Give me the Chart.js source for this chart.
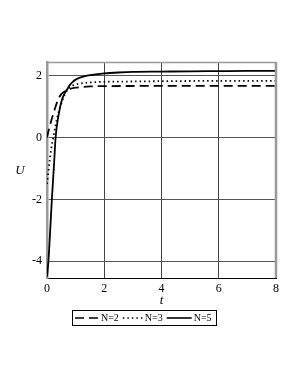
<!DOCTYPE html>
<html>
<head>
<meta charset="utf-8">
<script src="https://cdn.jsdelivr.net/npm/chart.js@4.4.1/dist/chart.umd.min.js"></script>
<style>
  html, body { margin: 0; padding: 0; background: #fff; }
  #wrap { width: 300px; height: 388px; }
</style>
</head>
<body>
<div id="wrap"><canvas id="myChart" width="300" height="388"></canvas></div>
<script>
// values
var tN2 = [0, 0.05, 0.1, 0.2, 0.3, 0.4, 0.5, 0.6, 0.7, 0.8, 1.0, 1.2, 1.5, 2, 3, 4, 6, 8];
var uN2 = [0, 0.2, 0.38, 0.7, 1.0, 1.25, 1.4, 1.48, 1.53, 1.57, 1.61, 1.63, 1.65, 1.66, 1.665, 1.67, 1.67, 1.67];

var tN3 = [0, 0.05, 0.1, 0.15, 0.22, 0.3, 0.4, 0.5, 0.6, 0.7, 0.8, 1.0, 1.2, 1.5, 2, 3, 4, 6, 8];
var uN3 = [-1.5, -1.1, -0.7, -0.35, 0, 0.4, 0.8, 1.1, 1.35, 1.52, 1.63, 1.71, 1.75, 1.78, 1.8, 1.81, 1.82, 1.83, 1.83];

var tN5 = [0, 0.05, 0.1, 0.17, 0.25, 0.3, 0.4, 0.5, 0.6, 0.7, 0.8, 0.9, 1.0, 1.2, 1.4, 1.7, 2, 2.5, 3, 4, 5, 6, 7, 8];
var uN5 = [-4.5, -4.0, -3.2, -2.0, -0.8, 0, 0.7, 1.15, 1.4, 1.55, 1.7, 1.8, 1.87, 1.95, 2.0, 2.04, 2.07, 2.1, 2.12, 2.13, 2.14, 2.145, 2.15, 2.15];

var labels = ['N=2', 'N=3', 'N=5'];
var xTicks = [0, 2, 4, 6, 8];
var yTicks = [-4, -2, 0, 2];

function pts(ts, us) {
  var out = [];
  for (let i = 0; i < ts.length; i++) out.push({x: ts[i], y: us[i]});
  return out;
}

var serif = '"Liberation Serif", "DejaVu Serif", serif';

var dashes = [[9, 5], [1.5, 3], []];

var extras = {
  id: 'extras',
  afterDraw: function (chart) {
    var c = chart.ctx, a = chart.chartArea;
    c.save();
    // top and right frame
    c.strokeStyle = '#999';
    c.lineWidth = 1.5;
    c.beginPath();
    c.moveTo(a.left, a.top + 0.5);
    c.lineTo(a.right, a.top + 0.5);
    c.stroke();
    c.lineWidth = 2.5;
    c.beginPath();
    c.moveTo(a.right, a.top);
    c.lineTo(a.right, a.bottom);
    c.stroke();

    // axis titles
    c.fillStyle = '#000';
    c.font = 'italic 13px ' + serif;
    c.textAlign = 'center';
    c.textBaseline = 'middle';
    c.fillText('t', (a.left + a.right) / 2, 301);
    c.fillText('U', 20, 171);

    // legend
    var bx = 72, by = 310, bw = 144, bh = 15;
    c.strokeStyle = '#000';
    c.lineWidth = 1;
    c.strokeRect(bx + 0.5, by + 0.5, bw, bh);
    c.font = '10px ' + serif;
    c.textAlign = 'left';
    var lens = [24, 20, 25];
    var ym = by + bh / 2 + 0.5;
    var x = bx + 3;
    for (let i = 0; i < 3; i++) {
      c.setLineDash(dashes[i]);
      c.lineWidth = i == 1 ? 1.5 : 1.6;
      c.beginPath();
      c.moveTo(x, ym);
      c.lineTo(x + lens[i], ym);
      c.stroke();
      c.setLineDash([]);
      x += lens[i] + 2;
      c.fillText(labels[i], x, ym);
      x += c.measureText(labels[i]).width + 4;
    }
    c.restore();
  }
};

var ctx = document.getElementById('myChart').getContext('2d');
new Chart(ctx, {
  type: 'line',
  data: {
    datasets: [
      { label: labels[0], data: pts(tN2, uN2), borderColor: '#000', borderWidth: 1.8, borderDash: dashes[0] },
      { label: labels[1], data: pts(tN3, uN3), borderColor: '#000', borderWidth: 1.8, borderDash: dashes[1] },
      { label: labels[2], data: pts(tN5, uN5), borderColor: '#000', borderWidth: 1.8 }
    ]
  },
  options: {
    responsive: false,
    animation: false,
    events: [],
    elements: {
      point: { radius: 0 },
      line: { cubicInterpolationMode: 'monotone', fill: false }
    },
    layout: { padding: { left: 0, top: 62, right: 24, bottom: 80 } },
    plugins: { legend: { display: false }, tooltip: { enabled: false } },
    scales: {
      x: {
        type: 'linear',
        min: 0, max: 8,
        afterBuildTicks: function (s) { s.ticks = xTicks.map(v => ({value: v})); },
        afterFit: function (s) { s.height = 30; },
        grid: { color: '#444', lineWidth: 1, drawTicks: false },
        border: { color: '#000', width: 1 },
        ticks: { color: '#000', padding: 4, font: { family: serif, size: 12 } }
      },
      y: {
        type: 'linear',
        min: -4.54, max: 2.44,
        afterBuildTicks: function (s) { s.ticks = yTicks.map(v => ({value: v})); },
        afterFit: function (s) { s.width = 47; },
        grid: { color: '#555', lineWidth: 1, drawTicks: false },
        border: { color: '#999', width: 2.5 },
        ticks: { color: '#000', padding: 5, font: { family: serif, size: 12 } }
      }
    }
  },
  plugins: [extras]
});
</script>
</body>
</html>
